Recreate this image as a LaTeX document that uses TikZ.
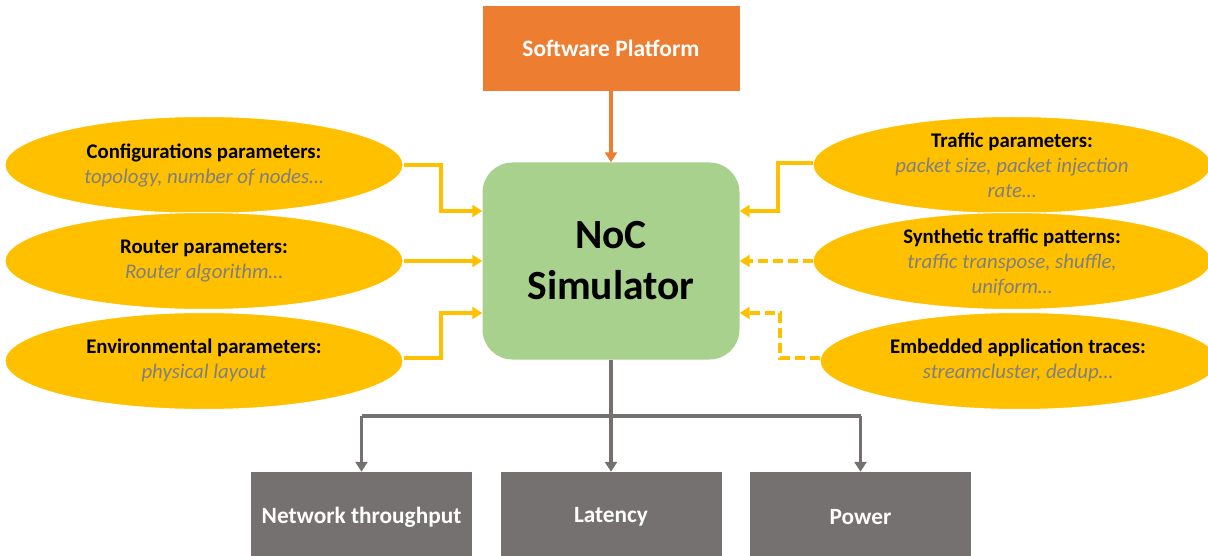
\documentclass[tikz,border=0pt]{standalone}
\usepackage{fontspec}
\setmainfont{Carlito}
\usetikzlibrary{shapes.geometric,arrows.meta}
\definecolor{orng}{HTML}{ED7D31}
\definecolor{gold}{HTML}{FFC000}
\definecolor{leaf}{HTML}{A9D18E}
\definecolor{slate}{HTML}{767171}
\definecolor{subgray}{HTML}{7F7F7F}
\newcommand{\sub}[1]{{\color{subgray}\itshape #1}}
\begin{document}
\begin{tikzpicture}[x=1pt,y=-1pt,
  oval/.style={ellipse,fill=gold,draw=white,line width=1pt,minimum width=398pt,minimum height=97pt,inner sep=0pt},
  ovaltext/.style={align=center,font=\fontsize{20.8}{25}\selectfont,inner sep=0pt},
  outbox/.style={rectangle,fill=slate,minimum width=221pt,minimum height=90pt,inner sep=0pt,text=white,font=\fontsize{23.3}{28}\selectfont\bfseries},
  tip/.style={-{Triangle[width=12pt,length=10pt]}},
  feed/.style={gold,line width=3.2pt,tip},
  feeddash/.style={feed,dash pattern=on 10pt off 5pt},
  outarrow/.style={slate,line width=3.2pt,tip}]
\useasboundingbox (0,0) rectangle (1208,556);

% software platform and simulator
\node[rectangle,fill=orng,minimum width=257pt,minimum height=85pt,inner sep=0pt,text=white,font=\fontsize{23.5}{28}\selectfont\bfseries]
  (sw) at (611,48.5) {Software Platform};
\node[rectangle,rounded corners=30pt,fill=leaf,minimum width=257pt,minimum height=197pt,inner sep=0pt,align=center,font=\fontsize{41.5}{51}\selectfont\bfseries]
  (sim) at (611,261) {NoC\\Simulator};
\draw[orng,line width=3.2pt,tip] (sw.south) -- (sim.north);

% input ellipses, left column
\node[oval] (cfg) at (204,165) {};
\node[oval] (rtr) at (204,261) {};
\node[oval] (env) at (204,361) {};
\node[ovaltext] (cfgt) at (cfg.center) {\textbf{Configurations parameters:}\\\sub{topology, number of nodes…}};
\node[ovaltext] (rtrt) at (rtr.center) {\textbf{Router parameters:}\\\sub{Router algorithm…}};
\node[ovaltext] (envt) at (204,360) {\textbf{Environmental parameters:}\\\sub{physical layout}};

% input ellipses, right column
\node[oval] (trf) at (1012,165) {};
\node[oval] (syn) at (1012,261) {};
\node[oval] (emb) at (1019,361) {};
\node[ovaltext] (trft) at (1012,165) {\textbf{Traffic parameters:}\\\sub{packet size, packet injection}\\\sub{rate…}};
\node[ovaltext] (synt) at (1012,262) {\textbf{Synthetic traffic patterns:}\\\sub{traffic transpose, shuffle,}\\\sub{uniform…}};
\node[ovaltext] (embt) at (1018,360) {\textbf{Embedded application traces:}\\\sub{streamcluster, dedup…}};

% feeds into the simulator
\draw[feed] (cfg.east) -- (441,165) |- (sim.west |- 0,211);
\draw[feed] (rtr.east) -- (sim.west |- rtr.east);
\draw[feed] (env.east |- 0,358) -- (441,358) |- (sim.west |- 0,313);
\draw[feed] (trf.west |- 0,163) -- (778,163) |- (sim.east |- 0,211);
\draw[feeddash] (syn.west) -- (sim.east |- syn.west);
\draw[feeddash] (emb.west |- 0,358) -- (780,358) |- (sim.east |- 0,313);

% outputs
\node[outbox] (thr) at (361.5,517) {Network throughput};
\node[outbox] (lat) at (611,517) {Latency};
\node[outbox] (pow) at (860.5,517) {Power};
\coordinate (split) at (611,416);
\draw[slate,line width=3.2pt] (sim.south) -- (split);
\draw[slate,line width=3.2pt] (thr.north |- split) -- (pow.north |- split);
\draw[outarrow] (thr.north |- split) -- (thr.north);
\draw[outarrow] (split) -- (lat.north);
\draw[outarrow] (pow.north |- split) -- (pow.north);
\end{tikzpicture}
\end{document}
